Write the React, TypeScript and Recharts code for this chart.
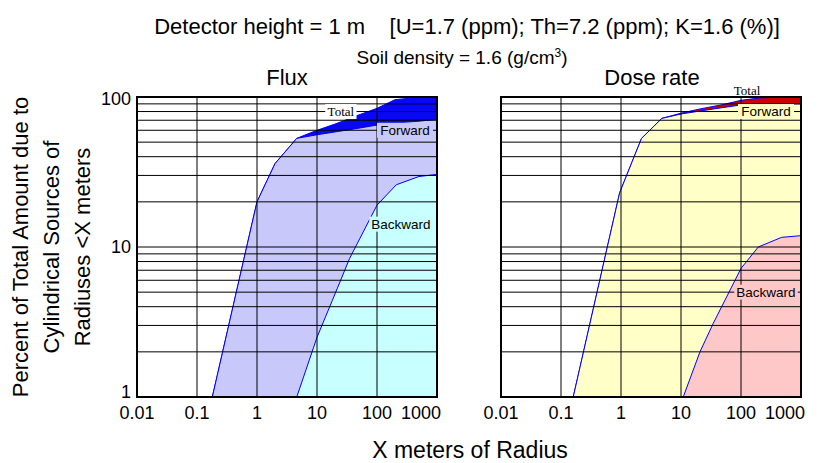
import React from "react";
import {
  Area,
  CartesianGrid,
  ComposedChart,
  ReferenceArea,
  ReferenceDot,
  XAxis,
  YAxis,
} from "recharts";

const SANS = "'Liberation Sans', Arial, sans-serif";
const SERIF = "'Liberation Serif', 'Times New Roman', serif";

// radius ticks / percent grid
const xTicks = [0.01, 0.1, 1, 10, 100, 1000];
const yTicks = [1, 10, 100];
const xGrid = [0.1, 1, 10, 100];
const yGrid = [2, 3, 4, 5, 6, 7, 8, 9, 10, 20, 30, 40, 50, 60, 70, 80, 90];

// Flux
const fluxTotalR = [0.18, 1, 2, 4.6, 10, 20, 50, 100, 200, 500, 1000];
const fluxTotalV = [1, 20, 36, 53, 60, 66, 76, 84, 96, 99.7, 100];
const fluxForwardR = [0.18, 1, 2, 4.6, 10, 20, 50, 100, 200, 500, 1000];
const fluxForwardV = [1, 20, 36, 53, 56, 58.5, 62, 65, 67, 69, 71];
const fluxBackwardR = [4.6, 10, 18, 35, 100, 210, 500, 1000];
const fluxBackwardV = [1, 2.5, 4.4, 8.4, 19, 26, 29.5, 30.5];

// Dose rate
const doseTotalR = [0.16, 0.95, 2.2, 4.8, 10, 20, 50, 100, 200, 500, 1000];
const doseTotalV = [1, 23, 53, 72, 78, 83, 89, 95, 98.5, 100, 100];
const doseForwardR = [0.16, 0.95, 2.2, 4.8, 10, 20, 50, 100, 200, 500, 1000];
const doseForwardV = [1, 23, 53, 72, 77, 80.5, 85, 88.5, 89.5, 90, 90];
const doseBackwardR = [10.9, 20.7, 34.5, 100, 194, 476, 1000];
const doseBackwardV = [1, 2, 3.1, 7.2, 10, 11.6, 11.9];

// curve labels: text, radius, percent
const fluxLabels = [
  { text: "Total", r: 25, v: 80, bg: "#ffffff", serif: true },
  { text: "Forward", r: 293, v: 60, bg: "#c8c8fa", serif: false },
  { text: "Backward", r: 251, v: 14.2, bg: "#c8ffff", serif: false },
];
const doseLabels = [
  { text: "Total", r: 126, v: 111, bg: "none", serif: true },
  { text: "Forward", r: 261, v: 80, bg: "#ffffc8", serif: false },
  { text: "Backward", r: 261, v: 5, bg: "#ffc8c8", serif: false },
];

const toData = (r: number[], v: number[]) => r.map((x, i) => ({ r: x, v: v[i] }));

function XTick({ x, y, payload }: any) {
  const last = payload.value === 1000;
  return (
    <text
      x={last ? x + 4 : x}
      y={y}
      dy={20}
      textAnchor={last ? "end" : "middle"}
      fontSize={18}
      fontFamily={SANS}
      fill="#000"
    >
      {payload.value}
    </text>
  );
}

function YTick({ x, y, payload }: any) {
  const shift = payload.value === 1 ? -5 : payload.value === 100 ? 2 : 0;
  return (
    <text x={x} y={y + shift} dy={6} textAnchor="end" fontSize={18} fontFamily={SANS} fill="#000">
      {payload.value}
    </text>
  );
}

function CurveLabel({ cx, cy, text, bg, serif }: any) {
  const fs = serif ? 13 : 13.5;
  const w = text.length * fs * (serif ? 0.42 : 0.55) + 4;
  const h = 15;
  return (
    <g>
      {bg !== "none" && <rect x={cx - w / 2} y={cy - h / 2} width={w} height={h} fill={bg} />}
      <text
        x={cx}
        y={cy}
        dy={4.5}
        textAnchor="middle"
        fontSize={fs}
        fontFamily={serif ? SERIF : SANS}
        fill="#000"
      >
        {text}
      </text>
    </g>
  );
}

type Panel = {
  total: { r: number; v: number }[];
  forward: { r: number; v: number }[];
  backward: { r: number; v: number }[];
  totalFill: string;
  forwardFill: string;
  backwardFill: string;
  labels: typeof fluxLabels;
};

function LogPanel({ p, showY, width, margin }: { p: Panel; showY: boolean; width: number; margin: any }) {
  return (
    <ComposedChart width={width} height={463} margin={margin}>
      <XAxis
        type="number"
        dataKey="r"
        scale="log"
        domain={[0.01, 1000]}
        ticks={xTicks}
        allowDataOverflow
        axisLine={false}
        tickLine={false}
        tickSize={0}
        tickMargin={2}
        height={66}
        tick={<XTick />}
        interval={0}
      />
      <YAxis
        type="number"
        scale="log"
        domain={[1, 100]}
        ticks={yTicks}
        allowDataOverflow
        hide={!showY}
        width={137}
        axisLine={false}
        tickLine={false}
        tickSize={0}
        tickMargin={6}
        interval={0}
        tick={<YTick />}
      />
      <Area
        data={p.total}
        dataKey="v"
        type="linear"
        baseValue={1}
        fill={p.totalFill}
        fillOpacity={1}
        stroke="#0000ff"
        strokeWidth={1}
        isAnimationActive={false}
        dot={false}
        activeDot={false}
      />
      <Area
        data={p.forward}
        dataKey="v"
        type="linear"
        baseValue={1}
        fill={p.forwardFill}
        fillOpacity={1}
        stroke="#0000ff"
        strokeWidth={1}
        isAnimationActive={false}
        dot={false}
        activeDot={false}
      />
      <Area
        data={p.backward}
        dataKey="v"
        type="linear"
        baseValue={1}
        fill={p.backwardFill}
        fillOpacity={1}
        stroke="#0000ff"
        strokeWidth={1}
        isAnimationActive={false}
        dot={false}
        activeDot={false}
      />
      <CartesianGrid
        horizontalValues={yGrid}
        verticalValues={xGrid}
        stroke="#000"
        strokeWidth={1}
        zIndex={450}
      />
      <ReferenceArea
        x1={0.01}
        x2={1000}
        y1={1}
        y2={100}
        fill="none"
        stroke="#000"
        strokeWidth={2}
        ifOverflow="visible"
        zIndex={460}
      />
      {p.labels.map((l) => (
        <ReferenceDot
          key={l.text}
          x={l.r}
          y={l.v}
          r={0}
          ifOverflow="visible"
          zIndex={470}
          shape={(props: any) => <CurveLabel {...props} text={l.text} bg={l.bg} serif={l.serif} />}
        />
      ))}
    </ComposedChart>
  );
}

function Txt({ x, y, size, children, style }: any) {
  return (
    <div
      style={{
        position: "absolute",
        left: x,
        top: y,
        transform: "translate(-50%, -50%)",
        fontSize: size,
        lineHeight: 1,
        whiteSpace: "pre",
        fontFamily: SANS,
        color: "#000",
        ...style,
      }}
    >
      {children}
    </div>
  );
}

export default function App() {
  const flux: Panel = {
    total: toData(fluxTotalR, fluxTotalV),
    forward: toData(fluxForwardR, fluxForwardV),
    backward: toData(fluxBackwardR, fluxBackwardV),
    totalFill: "#0808f4",
    forwardFill: "#c8c8fa",
    backwardFill: "#c8ffff",
    labels: fluxLabels,
  };
  const dose: Panel = {
    total: toData(doseTotalR, doseTotalV),
    forward: toData(doseForwardR, doseForwardV),
    backward: toData(doseBackwardR, doseBackwardV),
    totalFill: "#cc0000",
    forwardFill: "#ffffc8",
    backwardFill: "#ffc8c8",
    labels: doseLabels,
  };

  return (
    <div style={{ position: "absolute", left: 0, top: 0, width: 832, height: 463, background: "#fff", overflow: "hidden" }}>
      <Txt x={467} y={27} size={22}>
        {"Detector height = 1 m    [U=1.7 (ppm); Th=7.2 (ppm); K=1.6 (%)]"}
      </Txt>
      <Txt x={462} y={57} size={19}>
        Soil density = 1.6 (g/cm<sup style={{ fontSize: 12, verticalAlign: "7px" }}>3</sup>)
      </Txt>
      <Txt x={287} y={78} size={22}>Flux</Txt>
      <Txt x={652} y={78} size={22}>Dose rate</Txt>
      <Txt x={51} y={247} size={22} style={{ transform: "translate(-50%, -50%) rotate(-90deg)", textAlign: "center", lineHeight: "31px" }}>
        {"Percent of Total Amount due to\nCylindrical Sources of\nRadiuses <X meters"}
      </Txt>
      <Txt x={470} y={450} size={23}>X meters of Radius</Txt>

      <div style={{ position: "absolute", left: 0, top: 0 }}>
        <LogPanel p={flux} showY width={470} margin={{ top: 97, right: 33, left: 0, bottom: 0 }} />
      </div>
      <div style={{ position: "absolute", left: 470, top: 0 }}>
        <LogPanel p={dose} showY={false} width={362} margin={{ top: 97, right: 31, left: 31, bottom: 0 }} />
      </div>
    </div>
  );
}
